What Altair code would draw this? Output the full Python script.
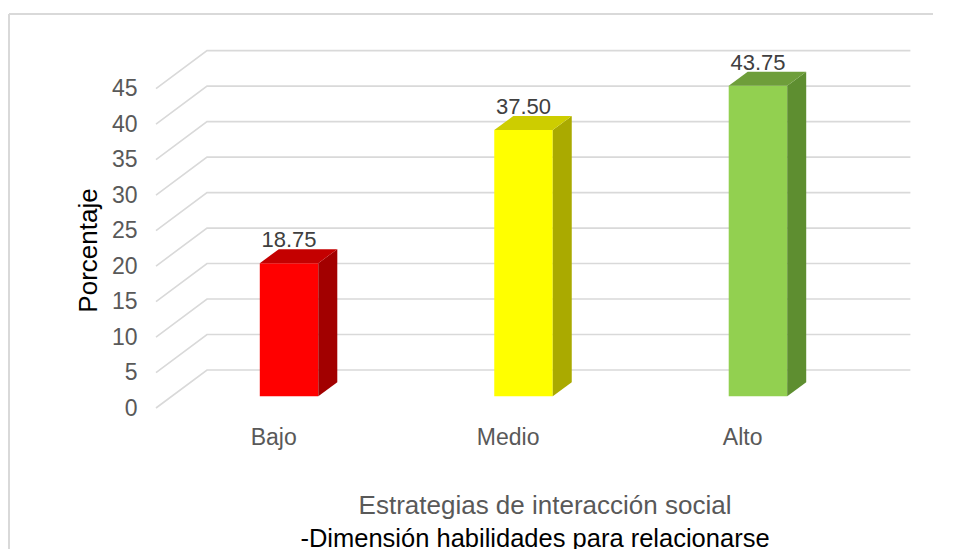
import altair as alt
import pandas as pd

# ---------------- data ----------------
categories = ["Bajo", "Medio", "Alto"]
values = [18.75, 37.50, 43.75]
value_labels = ["18.75", "37.50", "43.75"]
front_colors = ["#FF0000", "#FFFF00", "#92D050"]
side_colors = ["#A20000", "#AAAA00", "#5E8E30"]
top_colors = ["#C40000", "#CDCD00", "#6E9E3A"]
y_ticks = [0, 5, 10, 15, 20, 25, 30, 35, 40, 45]

y_title = "Porcentaje"
x_title = "Estrategias de interacción social"
x_subtitle = "-Dimensión habilidades para relacionarse"

FONT = "Liberation Sans"

# ---------------- geometry (styling of the 3D look) ----------------
W, H = 762, 369
X_MIN, X_MAX = -0.5, 2.75
Y_MAX = 52
kx = W / (X_MAX - X_MIN)
ky = H / Y_MAX


def ux(p):
    return p / kx


def uy(p):
    return p / ky


WX, WY = ux(51), uy(38)          # depth of back wall
SX, SY = 0.31 * WX, 0.31 * WY    # where the bars sit in depth
BW = ux(58.5)                    # bar front width
DX, DY = ux(19), uy(14)          # bar depth
X_LEFT = -0.5
X_RIGHT = len(categories) - 0.5

# ---------------- tables built from the data ----------------
grid_rows = []
for t in y_ticks:
    grid_rows.append({"x": X_LEFT, "y": t, "t": t, "o": 0})
    grid_rows.append({"x": X_LEFT + WX, "y": t + WY, "t": t, "o": 1})
    grid_rows.append({"x": X_RIGHT + WX, "y": t + WY, "t": t, "o": 2})
grid_df = pd.DataFrame(grid_rows)

front_rows, face_rows, label_rows = [], [], []
for i, (cat, v) in enumerate(zip(categories, values)):
    xc = i + SX
    xl, xr = xc - BW / 2, xc + BW / 2
    b, tp = SY, v + SY
    front_rows.append({"xl": xl, "xr": xr, "y0": b, "y1": tp, "c": front_colors[i]})
    # side face
    f = f"side{i}"
    face_rows += [
        {"x": xr, "lo": b, "hi": tp, "face": f, "c": side_colors[i]},
        {"x": xr + DX, "lo": b + DY, "hi": tp + DY, "face": f, "c": side_colors[i]},
    ]
    # top face
    f = f"top{i}"
    face_rows += [
        {"x": xl, "lo": tp, "hi": tp, "face": f, "c": top_colors[i]},
        {"x": xl + DX, "lo": tp, "hi": tp + DY, "face": f, "c": top_colors[i]},
        {"x": xr, "lo": tp, "hi": tp + DY, "face": f, "c": top_colors[i]},
        {"x": xr + DX, "lo": tp + DY, "hi": tp + DY, "face": f, "c": top_colors[i]},
    ]
    label_rows.append({"x": xc, "y": tp + DY, "txt": value_labels[i]})

front_df = pd.DataFrame(front_rows)
face_df = pd.DataFrame(face_rows)
label_df = pd.DataFrame(label_rows)
one_df = pd.DataFrame({"k": [0]})
title1_df = pd.DataFrame({"txt": [x_title]})
title2_df = pd.DataFrame({"txt": [x_subtitle]})

# ---------------- scales & axes ----------------
xs = alt.Scale(domain=[X_MIN, X_MAX], nice=False, zero=False)
ys = alt.Scale(domain=[0, Y_MAX], nice=False, zero=False)

label_expr = "[" + ",".join(f"'{c}'" for c in categories) + "][datum.value]"
x_axis = alt.Axis(values=list(range(len(categories))), labelExpr=label_expr,
                  domain=False, ticks=False, grid=False, labelFontSize=23,
                  labelColor="#595959", labelPadding=18, labelFont=FONT,
                  title=None)
y_axis = alt.Axis(values=y_ticks, domain=False, ticks=False, grid=False,
                  labelFontSize=23, labelColor="#595959", labelPadding=19,
                  labelFont=FONT, title=y_title, titleFontSize=26,
                  titleColor="#000000", titleFontWeight="normal",
                  titleFont=FONT, titleX=-68, titleY=211, titleAngle=270,
                  titleAlign="center", titleBaseline="middle")


def X(f):
    return alt.X(f, scale=xs, axis=x_axis)


def Y(f):
    return alt.Y(f, scale=ys, axis=y_axis, stack=None)


grid = alt.Chart(grid_df).mark_line(color="#d9d9d9", strokeWidth=1.6).encode(
    x=X("x:Q"), y=Y("y:Q"), detail="t:N", order="o:Q")

fronts = alt.Chart(front_df).mark_rect().encode(
    x=X("xl:Q"), x2="xr:Q", y=Y("y0:Q"), y2="y1:Q",
    color=alt.Color("c:N", scale=None))

faces = alt.Chart(face_df).mark_area(
    interpolate="linear", orient="vertical", opacity=1
).encode(
    x=X("x:Q"), y=Y("lo:Q"), y2="hi:Q",
    color=alt.Color("c:N", scale=None), detail="face:N")

labels = alt.Chart(label_df).mark_text(
    font=FONT, fontSize=22, color="#404040", baseline="bottom", dy=3
).encode(x=X("x:Q"), y=Y("y:Q"), text="txt:N")

title1 = alt.Chart(title1_df).mark_text(
    font=FONT, fontSize=26, baseline="middle", align="center", color="#595959"
).encode(x=alt.value(389), y=alt.value(467), text="txt:N")

title2 = alt.Chart(title2_df).mark_text(
    font=FONT, fontSize=25.5, baseline="middle", align="center", color="#000000"
).encode(x=alt.value(379), y=alt.value(500), text="txt:N")

frame_top = alt.Chart(one_df).mark_rule(color="#d9d9d9", strokeWidth=2).encode(
    x=alt.value(-147), x2=alt.value(W + 20), y=alt.value(-25))
frame_left = alt.Chart(one_df).mark_rule(color="#d9d9d9", strokeWidth=2).encode(
    x=alt.value(-147), y=alt.value(-25), y2=alt.value(H + 160))

chart = alt.layer(grid, fronts, faces, labels, title1, title2,
                  frame_top, frame_left).properties(
    width=W, height=H,
    autosize=alt.AutoSizeParams(type="none"),
    padding={"left": 148, "top": 31, "right": 15, "bottom": 141},
    background="white",
).configure_view(stroke=None)

chart.save("out.html", embed_options={"renderer": "svg", "actions": False})
